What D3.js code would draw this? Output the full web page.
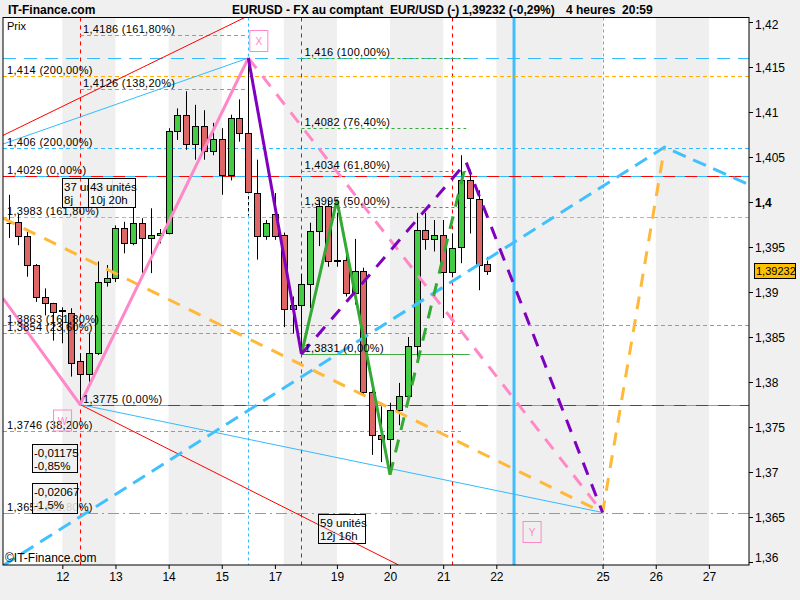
<!DOCTYPE html>
<html><head><meta charset="utf-8">
<script src="https://cdn.jsdelivr.net/npm/d3@7"></script>
<style>body{margin:0;background:#f0f0f0;}svg{display:block;font-family:"Liberation Sans",Arial,sans-serif;}</style>
</head><body><svg id="c" width="800" height="600"></svg>
<script>
// ---------- DATA ----------
const candleIdx = d3.range(-6, 49);
const open  = [1.3977,1.3978,1.3962,1.3930,1.3894,1.3888,1.3880,1.3877,1.3823,1.3809,1.3832,1.3911,1.3916,1.3971,1.3955,1.3977,1.3960,1.3963,1.3966,1.4079,1.4097,1.4064,1.4085,1.4057,1.4070,1.4030,1.4093,1.4077,1.4010,1.3962,1.3987,1.3963,1.3881,1.3886,1.3909,1.3968,1.3996,1.3934,1.3936,1.3899,1.3923,1.3789,1.3741,1.3737,1.3769,1.3784,1.3840,1.3969,1.3959,1.3963,1.3922,1.3950,1.4024,1.4003,1.3931];
const close = [1.3977,1.3962,1.3930,1.3894,1.3888,1.3878,1.3879,1.3821,1.3809,1.3832,1.3911,1.3916,1.3971,1.3955,1.3977,1.3960,1.3963,1.3966,1.4079,1.4097,1.4064,1.4085,1.4057,1.4070,1.4030,1.4093,1.4077,1.4011,1.3962,1.3977,1.3962,1.3881,1.3886,1.3909,1.3968,1.3996,1.3934,1.3936,1.3899,1.3923,1.3789,1.3741,1.3737,1.3769,1.3784,1.3840,1.3969,1.3959,1.3963,1.3922,1.3949,1.4025,1.4004,1.3930,1.39232];
const high  = [1.4008,1.3986,1.3967,1.3931,1.3904,1.3888,1.3883,1.3882,1.3832,1.3854,1.3934,1.3930,1.3974,1.3978,1.3994,1.3982,1.3993,1.3970,1.4082,1.4104,1.4123,1.4108,1.4102,1.4088,1.4082,1.4097,1.4114,1.4160,1.4047,1.3980,1.4010,1.3966,1.3895,1.3920,1.3977,1.4002,1.4002,1.3988,1.3952,1.3959,1.3927,1.3797,1.3773,1.3777,1.3799,1.3850,1.3988,1.3988,1.3980,1.3980,1.3965,1.4052,1.4036,1.4013,1.3939];
const low   = [1.3960,1.3952,1.3917,1.3889,1.3874,1.3846,1.3843,1.3806,1.3775,1.3800,1.3830,1.3906,1.3911,1.3943,1.3952,1.3921,1.3921,1.3954,1.3964,1.4069,1.4058,1.4047,1.4047,1.4052,1.4008,1.4024,1.4067,1.4010,1.3936,1.3958,1.3958,1.3861,1.3854,1.3831,1.3882,1.3951,1.3928,1.3928,1.3895,1.3886,1.3786,1.3719,1.3711,1.3697,1.3752,1.3777,1.3823,1.3947,1.3945,1.3871,1.3917,1.3932,1.3965,1.3902,1.3919];

const xTickIdx    = [0,6,12,18,24,31,37,43,49,61,67,73];
const xTickLabels = ["12","13","14","15","17","19","20","21","22","25","26","27"];
const yTicks = [1.36,1.365,1.37,1.375,1.38,1.385,1.39,1.395,1.4,1.405,1.41,1.415,1.42];
const dayEdges = [0,6,12,18,25,31,37,43,49,61,67,73,79];

const fibPrices = [1.4186,1.416,1.416,1.414,1.4126,1.4082,1.406,1.4034,1.4029,1.3995,1.3983,1.3863,1.3854,1.3831,1.3775,1.3746,1.3655];
const fibLabels = ["1,4186 (161,80%)","","1,416 (100,00%)","1,414 (200,00%)","1,4126 (138,20%)","1,4082 (76,40%)","1,406 (200,00%)","1,4034 (61,80%)","1,4029 (0,00%)","1,3995 (50,00%)","1,3983 (161,80%)","1,3863 (161,80%)","1,3854 (23,60%)","1,3831 (0,00%)","1,3775 (0,00%)","1,3746 (38,20%)","1,3655 (61,80%)"];
const fibFrom = [2,-6.7,27,-6.7,2,27,-6.7,27,-6.7,27,-6.7,-6.7,-6.7,27,2,-6.7,-6.7];
const fibTo   = [21,77.6,45.6,77.6,21,45.6,77.6,45.6,77.6,45.6,77.6,77.6,45,46,77.6,45,77.6];
const fibKind = ["blueShort","blueLong","green","orange","blueShort","green","blueShort","green","redBlue","green","orange","blueShort","blueShort","greenSolid","redBlue","blueShort","blueDashDot"];

const redDotIdx = [2,27,44];
const blueDotIdx = [21,61];
const blueSolidIdx = [51];

const redThin = [[[-6.7,1.4074],[20.6,1.4205]],[[2,1.3775],[37.9,1.3597]]];
const blueThin = [[[-6.7,1.40644],[21,1.416]],[[2,1.3775],[61,1.3655]]];
const pinkSolid = [[-6.7,1.3893],[2,1.3775],[21,1.416]];
const pinkDash = [[21,1.416],[61,1.3655]];
const purpleSolid = [[21,1.416],[27,1.3831]];
const purpleDash = [[27,1.3831],[45.6,1.4044],[61,1.3655]];
const greenSolid = [[27,1.3831],[31,1.4002],[37,1.3697]];
const greenDash = [[37,1.3697],[45.6,1.4044]];
const orangeDash = [[-6.7,1.3982],[61,1.3655],[68,1.4061]];
const blueDash = [[-6.7,1.3596],[68,1.4061],[77.6,1.4019]];

const pointLabels = ["W","X","Y"];
const pointIdx = [2,21,61];
const pointPrice = [1.3775,1.416,1.3655];

const boxLines = [["37 unités","8j"],["43 unités","10j 20h"],["-0,01175","-0,85%"],["-0,02067","-1,5%"],["59 unités","12j 16h"]];
const boxIdx = [-0.07,2.94,-3.39,-3.39,28.9];
const boxPrice = [1.40263,1.40263,1.37308,1.36881,1.3653];

const lastPrice = "1,39232";
const lastValue = 1.39232;

// ---------- CHART ----------
const W=800,H=600,L=3,R=749,T=17.5,B=565;
const svg = d3.select("#c");
const x = d3.scaleLinear().domain([-6.7,77.53]).range([L,R]);
const y = d3.scaleLinear().domain([1.359667,1.4205]).range([B,T]);
const fmt = d => String(+d.toFixed(4)).replace(".",",");

svg.append("rect").attr("width",W).attr("height",H).attr("fill","#f0f0f0");
svg.append("defs").append("clipPath").attr("id","clip").append("rect")
  .attr("x",L).attr("y",T).attr("width",R-L).attr("height",B-T);
const plot = svg.append("g").attr("clip-path","url(#clip)");
plot.append("rect").attr("x",L).attr("y",T).attr("width",R-L).attr("height",B-T).attr("fill","#fff");
for (let k=0;k<dayEdges.length-1;k+=2){
  plot.append("rect").attr("x",x(dayEdges[k])).attr("y",T)
    .attr("width",x(dayEdges[k+1])-x(dayEdges[k])).attr("height",B-T).attr("fill","#efefef");
}

const line = d3.line().x(d=>x(d[0])).y(d=>y(d[1]));
const styles = {
  blueShort:{c:"#33bbff",d:"4,3"},
  blueLong:{c:"#33bbff",d:"13,8"},
  orange:{c:"#ffb000",d:"4,3"},
  green:{c:"#33aa33",d:"3,3"},
  greenSolid:{c:"#44aa44",d:null},
  blueDashDot:{c:"#33bbff",d:"11,4,2,4"}
};

// vertical lines
redDotIdx.forEach(i=>plot.append("line").attr("x1",Math.round(x(i))+0.5).attr("x2",Math.round(x(i))+0.5)
  .attr("y1",T).attr("y2",B).attr("stroke","#ff0000").attr("stroke-dasharray","4,4"));
blueDotIdx.forEach(i=>plot.append("line").attr("x1",Math.round(x(i))+0.5).attr("x2",Math.round(x(i))+0.5)
  .attr("y1",T).attr("y2",B).attr("stroke","#33bbff").attr("stroke-dasharray","3,3"));
plot.append("line").attr("x1",Math.round(x(21))+0.5).attr("x2",Math.round(x(21))+0.5)
  .attr("y1",y(1.416)).attr("y2",y(1.3985)).attr("stroke","#000").attr("stroke-dasharray","3,3");
blueSolidIdx.forEach(i=>plot.append("line").attr("x1",x(i)).attr("x2",x(i))
  .attr("y1",T).attr("y2",B).attr("stroke","#40bfff").attr("stroke-width",3));

// horizontal levels
fibPrices.forEach((p,k)=>{
  const yy = Math.round(y(p))+0.5, x1=x(fibFrom[k]), x2=x(fibTo[k]);
  if (fibKind[k]==="redBlue"){
    plot.append("line").attr("x1",x1).attr("x2",x2).attr("y1",yy).attr("y2",yy).attr("stroke","#33bbff");
    plot.append("line").attr("x1",x1).attr("x2",x2).attr("y1",yy).attr("y2",yy).attr("stroke","#ff0000").attr("stroke-dasharray","12,10");
  } else {
    const s=styles[fibKind[k]];
    plot.append("line").attr("x1",x1).attr("x2",x2).attr("y1",yy).attr("y2",yy)
      .attr("stroke",s.c).attr("stroke-dasharray",s.d);
  }
});

// thin trend lines
redThin.forEach(pts=>plot.append("path").attr("d",line(pts)).attr("fill","none").attr("stroke","#ff0000"));
blueThin.forEach(pts=>plot.append("path").attr("d",line(pts)).attr("fill","none").attr("stroke","#33bbff"));

// candles
const cg = plot.append("g");
candleIdx.forEach((i,k)=>{
  const cx = Math.round(x(i))+0.5;
  cg.append("line").attr("x1",cx).attr("x2",cx).attr("y1",y(high[k])).attr("y2",y(low[k])).attr("stroke","#000");
  const o=open[k],c=close[k];
  const top=Math.round(y(Math.max(o,c)))+0.5, bot=Math.round(y(Math.min(o,c)))+0.5;
  if (bot-top<1){
    cg.append("line").attr("x1",cx-3).attr("x2",cx+3).attr("y1",top).attr("y2",top).attr("stroke","#000");
  } else {
    cg.append("rect").attr("x",cx-3).attr("y",top).attr("width",6).attr("height",bot-top)
      .attr("fill",c>=o?"#44cc44":"#dd6666").attr("stroke","#000");
  }
});

// pattern lines
const thick=(pts,col,dash)=>plot.append("path").attr("d",line(pts)).attr("fill","none")
  .attr("stroke",col).attr("stroke-width",3).attr("stroke-dasharray",dash).attr("stroke-linejoin","round");
thick(orangeDash,"#ffb838","13,10");
thick(blueDash,"#40c0ff","14,8");
thick(pinkSolid,"#ff88c8",null);
thick(pinkDash,"#ff88c8","13,10");
thick(greenSolid,"#33aa33",null);
thick(greenDash,"#33aa33","13,10");
thick(purpleSolid,"#8000c0",null);
thick(purpleDash,"#8000c0","13,10");

// level labels
const lab = plot.append("g").attr("font-size",11).attr("letter-spacing","0.3").attr("fill","#000");
fibPrices.forEach((p,k)=>{
  if(!fibLabels[k]) return;
  const xs = fibFrom[k]<-6 ? L+4 : x(fibFrom[k])+3;
  lab.append("text").attr("x",xs).attr("y",Math.round(y(p))-2).text(fibLabels[k]);
});

// point label boxes
const pOff = {W:[-27,5],X:[1,-28],Y:[-80,8.5]};
pointLabels.forEach((t,k)=>{
  const px=x(pointIdx[k])+pOff[t][0], py=y(pointPrice[k])+pOff[t][1];
  plot.append("rect").attr("x",px+0.5).attr("y",py+0.5).attr("width",18).attr("height",21)
    .attr("fill","none").attr("stroke","#ff88c8");
  plot.append("text").attr("x",px+9.5).attr("y",py+15).attr("text-anchor","middle")
    .attr("font-size",10).attr("fill","#ff88c8").text(t);
});

// info boxes
const boxW=[50,47,45,45,47], boxH=[29,29,28,30,29];
const boxFill=["rgba(255,255,255,0.15)","rgba(245,245,245,0.9)","rgba(240,240,240,0.85)","rgba(240,240,240,0.85)","rgba(255,255,255,0.2)"];
boxLines.forEach((ls,k)=>{
  const bx=Math.round(x(boxIdx[k]))+0.5, by=Math.round(y(boxPrice[k]))+0.5;
  plot.append("rect").attr("x",bx).attr("y",by).attr("width",boxW[k]).attr("height",boxH[k])
    .attr("fill",boxFill[k]).attr("stroke","#000");
  ls.forEach((t,j)=>plot.append("text").attr("x",bx+1.5).attr("y",by+12.5+j*13).attr("font-size",11.5).text(t));
});

plot.append("text").attr("x",7).attr("y",30).attr("font-size",11).text("Prix");
plot.append("text").attr("x",5).attr("y",562).attr("font-size",12).text("©IT-Finance.com");

// frame
svg.append("rect").attr("x",L).attr("y",T).attr("width",R-L).attr("height",B-T)
  .attr("fill","none").attr("stroke","#000");

// y axis
const ya = svg.append("g");
yTicks.forEach(t=>{
  const yy=Math.round(y(t))+0.5;
  ya.append("line").attr("x1",R).attr("x2",R+4).attr("y1",yy).attr("y2",yy).attr("stroke","#000");
  ya.append("text").attr("x",R+6).attr("y",Math.min(Math.max(yy,25),558)+4).attr("font-size",12)
    .attr("font-weight",t===1.4?"bold":"normal").text(fmt(t));
});
ya.append("rect").attr("x",754.5).attr("y",Math.round(y(lastValue))-7.5).attr("width",41).attr("height",15)
  .attr("fill","#ffc000").attr("stroke","#000");
ya.append("text").attr("x",756).attr("y",Math.round(y(lastValue))+4).attr("font-size",11).text(lastPrice);

// x axis
const xa = svg.append("g").attr("transform",`translate(0,${B})`)
  .call(d3.axisBottom(x).tickValues(xTickIdx).tickFormat((d,i)=>xTickLabels[i]).tickSize(4).tickPadding(3));
xa.select(".domain").remove();
xa.selectAll("text").attr("font-size",12).attr("font-family","Liberation Sans, Arial, sans-serif").attr("fill","#000");

// title
const tt = svg.append("g").attr("font-size",12).attr("font-weight","bold");
tt.append("text").attr("x",8).attr("y",14).text("IT-Finance.com");
tt.append("text").attr("x",232).attr("y",14).text("EURUSD - FX au comptant  EUR/USD (-)").attr("xml:space","preserve");
tt.append("text").attr("x",462).attr("y",14).text("1,39232 (-0,29%)");
tt.append("text").attr("x",566).attr("y",14).text("4 heures  20:59").attr("xml:space","preserve");
</script></body></html>
